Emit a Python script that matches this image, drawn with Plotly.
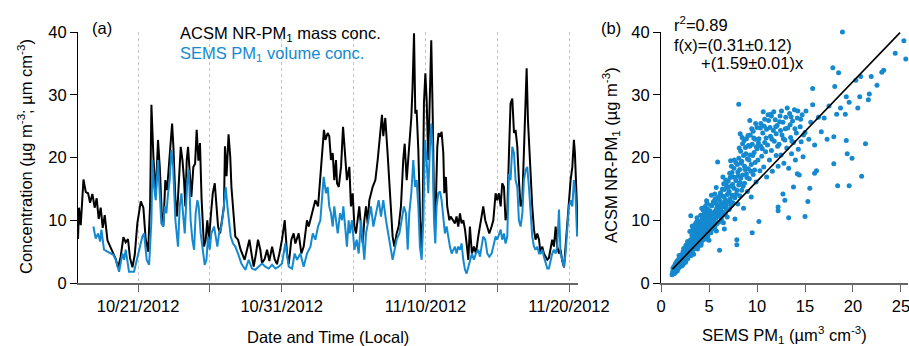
import numpy as np
import pandas as pd
import plotly.graph_objects as go

# ---------------- data ----------------
# time axis: days since 2012-10-21 00:00 (local)
acsm_day = [-4.18, -4.11, -3.99, -3.80, -3.64, -3.48, -3.34, -3.18, -3.02, -2.88, -2.74, -2.60, -2.46, -2.32,
            -2.13, -1.95, -1.79, -1.55, -1.39, -1.21, -1.02, -0.86, -0.70, -0.56, -0.39, -0.23, -0.05, 0.19,
            0.37, 0.53, 0.70, 0.84, 0.93, 1.07, 1.23,
            1.39, 1.51, 1.67, 1.76, 1.90, 2.02, 2.16, 2.27, 2.37, 2.46, 2.60, 2.71, 2.83, 2.97, 3.09, 3.20,
            3.29, 3.39, 3.48, 3.59, 3.71, 3.85, 3.97, 4.08, 4.20, 4.31, 4.42, 4.59, 4.71, 4.82, 4.94, 5.06,
            5.20, 5.34, 5.45, 5.57, 5.71, 5.85, 5.98, 6.05, 6.16, 6.30, 6.42, 6.50, 6.64, 6.77, 6.96, 7.14,
            7.42, 7.59, 7.75, 7.93, 8.05, 8.21, 8.35, 8.51, 8.63, 8.81, 8.98, 9.14, 9.33, 9.51, 9.67, 9.84,
            10.02, 10.21, 10.37, 10.49, 10.67, 10.83, 10.95, 11.18, 11.37, 11.53, 11.76, 11.88, 12.11, 12.34,
            12.53, 12.76, 12.94, 13.04,
            13.20, 13.31, 13.43, 13.55, 13.66, 13.78, 13.85, 13.97, 14.13, 14.27, 14.43, 14.54, 14.71, 14.82,
            14.94, 15.06, 15.17, 15.29, 15.40, 15.52, 15.64, 15.75, 15.87, 15.98, 16.10, 16.33, 16.52, 16.68,
            16.84, 16.98, 17.07, 17.21, 17.37, 17.49, 17.61, 17.72, 17.84, 18.00, 18.14, 18.30, 18.46, 18.56,
            18.70, 18.88, 19.02,
            19.11, 19.21, 19.30, 19.39, 19.51, 19.62, 19.69, 19.81, 19.90, 20.00, 20.09, 20.20, 20.32, 20.41,
            20.51, 20.60, 20.69, 20.83, 20.92, 21.02, 21.13, 21.25, 21.32, 21.43, 21.52, 21.67, 21.76, 21.90,
            22.06, 22.17, 22.29, 22.41, 22.52, 22.64, 22.76, 22.87, 22.99, 23.10, 23.24, 23.38, 23.52, 23.68,
            23.80, 23.91, 24.03, 24.17, 24.31, 24.45, 24.61, 24.73,
            24.89, 25.00, 25.12, 25.24, 25.35, 25.47, 25.58, 25.70, 25.82, 25.93, 26.05, 26.17, 26.28, 26.40,
            26.51, 26.63, 26.75, 26.86, 26.98, 27.05, 27.14, 27.23, 27.33, 27.44, 27.56, 27.67, 27.79, 27.91,
            28.02, 28.14, 28.25, 28.37, 28.49, 28.60, 28.72, 28.83, 28.95, 29.07, 29.18, 29.30, 29.41, 29.53,
            29.65, 29.76, 29.88, 29.99, 30.11, 30.23, 30.34, 30.41, 30.50, 30.62]
acsm_val = [7.0, 12.0, 9.2, 16.5, 14.5, 14.3, 12.8, 14.2, 12.0, 13.5, 10.2, 12.0, 8.8, 10.8,
            6.8, 5.8, 5.0, 3.8, 2.4, 4.2, 7.3, 6.5, 7.0, 4.0, 2.5, 4.5, 9.5, 13.0,
            12.0, 7.0, 5.0, 12.5, 28.4, 20.0, 14.0,
            22.8, 18.5, 10.0, 9.0, 16.4, 14.8, 19.0, 22.8, 25.4, 21.7, 13.2, 10.6, 16.9, 21.7, 19.6, 16.4,
            12.2, 19.6, 21.7, 16.9, 13.7, 18.5, 19.0, 24.4, 19.5, 22.3, 13.5, 5.8, 6.9, 10.0, 6.9, 10.6,
            14.3, 15.9, 12.2, 9.0, 7.9, 10.0, 12.2, 21.8, 17.0, 23.7, 20.0, 15.3, 11.1, 7.4, 6.9, 5.3,
            3.7, 5.3, 6.9, 4.2, 2.6, 4.7, 6.9, 5.3, 3.2, 3.8, 5.3, 3.5, 5.8, 3.8, 3.0, 4.7,
            6.9, 10.0, 4.7, 3.0, 6.9, 7.9, 6.3, 7.9, 4.7, 5.8, 10.0, 9.0, 11.1, 13.2,
            12.2, 18.5, 24.4, 22.8,
            23.9, 23.4, 19.6, 20.7, 16.4, 19.6, 15.9, 15.3, 18.5, 24.9, 19.6, 16.4, 18.5, 12.2,
            14.3, 9.0, 7.9, 10.0, 12.2, 9.0, 6.3, 10.0, 12.2, 9.5, 13.2, 15.3, 16.4, 19.6,
            23.9, 26.8, 23.4, 26.3, 20.7, 16.4, 12.7, 7.4, 5.8, 7.9, 9.0, 12.2, 19.6, 22.2,
            16.4, 21.7, 26.3,
            31.3, 39.8, 27.0, 27.6, 21.2, 9.0, 5.3, 10.0, 28.6, 33.4, 29.2, 19.6, 28.6, 38.7,
            27.0, 13.2, 9.0, 21.7, 23.9, 23.3, 24.1, 20.7, 14.3, 16.9, 12.2, 10.0, 10.6, 10.0,
            9.5, 10.6, 9.0, 11.1, 9.5, 10.0, 8.5, 6.3, 3.7, 9.0, 4.7, 5.8, 4.7, 7.4,
            9.0, 11.1, 12.2, 10.0, 9.0, 7.9, 9.0, 10.0,
            14.3, 13.2, 14.3, 12.2, 15.9, 15.3, 10.0, 11.1, 20.7, 28.6, 29.4, 23.9, 24.4, 21.7,
            16.4, 12.2, 13.2, 20.7, 31.3, 34.2, 26.0, 21.7, 16.4, 12.2, 8.5, 6.9, 7.9, 6.9,
            4.7, 5.8, 4.7, 4.2, 3.7, 4.0, 5.3, 6.9, 5.8, 9.0, 5.8, 4.7, 5.3, 3.5,
            2.5, 5.8, 10.0, 13.2, 16.4, 18.5, 22.8, 20.7, 14.3, 8.0]

sems_day = [-3.11, -2.95, -2.78, -2.64, -2.55, -2.37, -2.13, -1.90, -1.72, -1.55, -1.32, -1.09, -0.97, -0.86,
            -0.63, -0.28, -0.09, 0.07, 0.30, 0.42, 0.60, 0.77, 0.93, 1.00, 1.11, 1.23,
            1.39, 1.62, 1.74, 1.86, 1.97, 2.09, 2.20, 2.32, 2.44, 2.60, 2.69, 2.78, 2.90, 3.02, 3.13, 3.25,
            3.43, 3.53, 3.66, 3.78, 3.90, 4.01, 4.13, 4.22, 4.36, 4.48, 4.64, 4.76, 4.87, 4.99, 5.10, 5.29,
            5.38, 5.52, 5.64, 5.80, 5.92, 6.10, 6.22, 6.31, 6.45, 6.61, 6.77, 6.96, 7.19, 7.33,
            7.47, 7.70, 7.93, 8.16, 8.40, 8.63, 8.86, 9.09, 9.33, 9.56, 9.79, 10.02, 10.25, 10.49, 10.72,
            10.90, 11.07, 11.30, 11.53, 11.76, 12.00, 12.16, 12.34, 12.53, 12.69, 12.92, 13.08,
            13.20, 13.31, 13.43, 13.55, 13.66, 13.78, 13.90, 14.06, 14.20, 14.29, 14.43, 14.54, 14.66, 14.75,
            14.89, 15.06, 15.22, 15.36, 15.52, 15.64, 15.75, 15.87, 16.05, 16.21, 16.38, 16.57, 16.75, 16.91,
            17.07, 17.26, 17.45, 17.61, 17.72, 17.86, 18.00, 18.19, 18.37, 18.51, 18.65, 18.77, 18.88, 19.02,
            19.16, 19.28, 19.39, 19.51, 19.62, 19.74, 19.86, 19.97, 20.09, 20.20, 20.32, 20.41, 20.51, 20.60,
            20.69, 20.78, 20.90, 21.02, 21.13, 21.25, 21.36, 21.48, 21.60, 21.71, 21.83, 21.94, 22.06, 22.17,
            22.29, 22.41, 22.52, 22.64, 22.76, 22.87, 22.99, 23.10, 23.24, 23.38, 23.52, 23.68, 23.80, 23.91,
            24.03, 24.17, 24.31, 24.45, 24.61, 24.73,
            24.89, 25.00, 25.12, 25.24, 25.35, 25.47, 25.58, 25.70, 25.82, 25.93, 26.05, 26.17, 26.28, 26.40,
            26.51, 26.63, 26.75, 26.86, 26.98, 27.09, 27.21, 27.33, 27.44, 27.56, 27.67, 27.79, 27.91, 28.02,
            28.14, 28.25, 28.37, 28.49, 28.60, 28.72, 28.83, 28.95, 29.07, 29.18, 29.30, 29.41, 29.53, 29.65,
            29.76, 29.88, 29.99, 30.11, 30.23, 30.34, 30.45, 30.56]
sems_val = [9.0, 7.1, 7.9, 6.6, 8.5, 5.3, 5.0, 4.7, 4.5, 3.7, 1.8, 4.7, 3.7, 5.3,
            1.8, 1.8, 3.7, 5.3, 7.4, 7.9, 3.7, 2.9, 10.0, 19.6, 15.4, 13.2,
            19.6, 9.5, 9.0, 12.2, 11.1, 14.3, 16.4, 21.2, 18.5, 10.0, 7.4, 5.8, 12.2, 14.3, 11.1, 7.9,
            16.4, 18.0, 10.0, 6.9, 5.3, 11.1, 13.2, 12.2, 7.9, 5.3, 2.9, 3.7, 7.4, 5.3, 7.9, 9.0,
            7.9, 5.8, 7.9, 9.0, 11.1, 15.3, 12.2, 10.0, 7.4, 6.3, 5.8, 4.7, 3.1, 2.6,
            2.1, 3.7, 2.3, 2.1, 2.6, 3.1, 2.6, 2.3, 2.9, 2.3, 2.6, 3.1, 6.3, 2.6, 2.3,
            4.7, 3.7, 4.7, 2.6, 4.7, 5.8, 7.9, 6.9, 9.0, 10.0, 16.9, 14.3,
            15.3, 12.2, 11.1, 9.0, 12.2, 10.0, 7.9, 11.1, 10.0, 12.2, 9.0, 5.8, 10.0, 7.9,
            10.0, 5.3, 6.9, 4.7, 10.0, 6.9, 3.7, 7.9, 10.0, 12.2, 9.0, 11.1, 13.2, 10.6,
            13.2, 10.0, 7.4, 4.7, 3.7, 5.3, 6.9, 7.9, 10.0, 12.2, 11.1, 5.3, 11.1, 14.3,
            19.6, 15.3, 16.4, 12.2, 5.8, 3.7, 10.0, 22.8, 19.6, 14.3, 21.7, 25.4, 20.7, 10.0,
            6.3, 12.2, 14.3, 14.6, 13.2, 10.0, 7.9, 9.0, 6.9, 5.8, 4.7, 5.3, 5.8, 4.7,
            5.8, 5.3, 6.3, 3.7, 2.1, 1.5, 2.6, 3.7, 4.7, 3.7, 4.7, 5.3, 4.2, 5.8,
            7.4, 6.9, 4.7, 4.2, 4.7, 5.8,
            7.4, 6.9, 7.9, 8.5, 6.9, 7.9, 6.3, 7.4, 17.4, 16.4, 21.7, 20.7, 16.4, 15.3,
            10.0, 9.0, 11.1, 16.4, 18.0, 18.5, 15.3, 10.6, 7.4, 5.8, 5.3, 5.8, 4.7, 4.7,
            5.3, 4.2, 3.1, 2.3, 2.3, 3.7, 4.7, 5.3, 4.7, 5.8, 11.7, 4.7, 3.7, 2.6,
            4.7, 7.9, 12.2, 13.2, 12.2, 16.4, 14.3, 7.4]

# scatter panel (b): SEMS PM1 volume vs ACSM NR-PM1 mass, read band by band
scatter_sems = [
    1.2, 1.3, 1.3, 1.4, 1.4, 1.5, 1.5, 1.5, 1.6, 1.6, 1.7, 1.7, 1.8, 1.8, 1.8, 1.9, 1.9, 2.0, 2.0, 2.0, 1.6, 1.4, 1.7, 1.9,
    2.1, 2.1, 2.2, 2.2, 2.3, 2.3, 2.4, 2.4, 2.5, 2.5, 2.5, 2.6, 2.6, 2.7, 2.7, 2.8, 2.8, 2.8, 2.9, 2.9, 3.0, 3.0, 3.0, 2.6, 2.3, 2.2, 2.4,
    3.1, 3.1, 3.1, 3.2, 3.2, 3.3, 3.3, 3.4, 3.4, 3.5, 3.5, 3.5, 3.6, 3.6, 3.7, 3.7, 3.8, 3.8, 3.9, 3.9, 4.0, 4.0, 4.0, 3.6, 3.3, 3.8, 3.4,
    4.1, 4.1, 4.2, 4.2, 4.3, 4.3, 4.4, 4.4, 4.5, 4.5, 4.5, 4.6, 4.6, 4.7, 4.7, 4.8, 4.8, 4.8, 4.9, 4.9, 5.0, 5.0, 5.0, 4.4, 4.6,
    5.1, 5.1, 5.2, 5.2, 5.3, 5.3, 5.4, 5.4, 5.5, 5.5, 5.6, 5.6, 5.7, 5.7, 5.8, 5.8, 5.9, 5.9, 6.0, 6.0, 6.1, 5.9, 5.6,
    6.1, 6.1, 6.2, 6.2, 6.3, 6.3, 6.4, 6.4, 6.5, 6.5, 6.6, 6.6, 6.7, 6.7, 6.8, 6.8, 6.9, 6.9, 7.0, 7.0, 6.6,
    7.1, 7.1, 7.2, 7.2, 7.3, 7.3, 7.4, 7.4, 7.5, 7.5, 7.6, 7.6, 7.7, 7.8, 7.8, 7.9, 7.9, 7.9, 8.0, 8.0, 7.7,
    8.1, 8.1, 8.1, 8.2, 8.2, 8.3, 8.3, 8.4, 8.4, 8.5, 8.5, 8.6, 8.7, 8.7, 8.8, 8.9, 8.9, 9.0, 9.0, 8.6,
    9.1, 9.1, 9.2, 9.3, 9.3, 9.4, 9.5, 9.5, 9.6, 9.6, 9.7, 9.8, 9.8, 9.9, 10.0, 10.0, 10.2, 9.4,
    10.1, 10.2, 10.3, 10.4, 10.4, 10.5, 10.6, 10.7, 10.8, 10.8, 10.9, 11.0, 11.0,
    11.1, 11.2, 11.3, 11.4, 11.5, 11.5, 11.6, 11.7, 11.8, 11.9, 12.0, 12.0,
    12.1, 12.2, 12.2, 12.2, 12.3, 12.4, 12.5, 12.6, 12.7, 12.7, 12.8, 12.9, 12.9, 13.0,
    13.1, 13.2, 13.3, 13.3, 13.4, 13.5, 13.6, 13.7, 13.8, 13.8, 13.9, 14.0,
    14.1, 14.2, 14.2, 14.3, 14.4, 14.5, 14.6, 14.7, 14.8, 15.0, 15.0, 15.1, 15.3, 15.4, 15.5, 15.6, 15.8, 16.0, 16.0, 15.8,
    16.2, 16.4, 16.7, 17.0, 17.5, 17.3, 17.9, 18.0, 18.0, 18.1, 18.3, 18.4, 18.5, 18.7, 18.9, 19.2, 19.3, 19.3, 19.4,
    19.6, 19.6, 19.9, 20.3, 20.5, 20.7, 20.8, 20.9, 21.3, 21.6, 21.7, 21.9, 22.5, 23.0, 23.2, 24.4, 25.3, 25.5]
scatter_acsm = [
    1.5, 2.0, 1.6, 2.3, 1.8, 2.6, 2.1, 1.7, 2.9, 2.4, 2.2, 3.1, 2.7, 3.4, 2.3, 3.0, 3.6, 2.8, 3.3, 4.0, 2.0, 1.5, 2.6, 2.5,
    3.1, 3.8, 3.5, 4.3, 3.0, 4.0, 3.6, 4.6, 3.9, 5.0, 4.3, 3.5, 4.8, 4.2, 5.4, 4.6, 5.8, 3.9, 5.1, 6.2, 4.5, 5.5, 8.2, 6.0, 5.0, 2.8, 3.2,
    5.0, 6.4, 10.7, 5.7, 7.0, 4.8, 6.1, 6.8, 7.6, 5.5, 6.3, 8.1, 7.0, 5.9, 7.5, 8.8, 6.6, 7.9, 7.2, 9.3, 6.3, 8.0, 9.8, 9.5, 8.5, 5.4, 4.6,
    7.1, 8.6, 6.4, 9.2, 7.8, 10.2, 6.9, 8.4, 9.0, 11.0, 7.4, 8.1, 9.8, 7.0, 10.5, 8.7, 12.7, 9.4, 7.8, 11.2, 8.5, 10.0, 6.8, 11.6, 12.2,
    9.2, 11.5, 8.0, 10.4, 9.6, 12.3, 8.6, 10.9, 9.9, 13.0, 8.9, 11.4, 10.3, 12.7, 9.4, 11.9, 10.8, 13.6, 9.7, 12.2, 5.2, 19.3, 14.2,
    10.6, 13.2, 11.8, 14.4, 10.1, 12.6, 11.3, 15.0, 13.8, 9.6, 12.1, 14.9, 11.0, 13.3, 15.6, 12.4, 10.5, 14.1, 12.9, 16.2, 8.6,
    11.7, 14.6, 13.4, 16.8, 12.3, 15.4, 14.0, 17.6, 12.8, 16.9, 15.1, 18.3, 13.6, 16.3, 19.2, 6.9, 6.1, 14.8, 17.7, 12.6, 10.2,
    15.6, 19.9, 28.5, 13.9, 18.1, 16.7, 21.0, 14.8, 19.4, 22.2, 17.2, 20.3, 15.9, 18.6, 21.6, 17.4, 23.0, 19.8, 14.6, 11.9,
    18.2, 21.9, 16.6, 20.4, 23.6, 18.9, 8.0, 22.1, 17.3, 24.2, 20.8, 19.2, 22.9, 16.1, 21.4, 24.8, 9.8, 13.7,
    19.6, 23.0, 17.9, 21.8, 25.4, 20.2, 23.9, 18.5, 22.4, 26.1, 20.9, 24.5, 16.9,
    22.0, 25.9, 19.6, 23.4, 26.6, 21.1, 17.8, 24.3, 22.6, 26.0, 20.3, 23.8,
    25.1, 12.1, 11.5, 18.6, 22.1, 26.6, 20.4, 23.6, 14.2, 25.6, 19.1, 13.2, 22.8, 26.4,
    21.5, 24.7, 10.4, 18.3, 27.0, 23.2, 20.6, 25.8, 15.3, 22.4, 27.6, 19.6,
    23.9, 17.4, 26.3, 21.3, 17.2, 24.9, 22.5, 26.8, 20.1, 10.6, 24.0, 27.4, 13.0, 22.9, 15.1, 25.6, 31.0, 17.5, 22.0, 28.4,
    17.9, 26.4, 24.1, 26.3, 28.2, 22.9, 34.3, 19.0, 23.3, 31.3, 26.9, 15.5, 33.5, 27.9, 40.0, 26.9, 29.7, 22.7, 20.6,
    28.8, 15.5, 19.9, 32.3, 27.9, 29.7, 32.9, 17.0, 22.2, 29.2, 30.1, 32.9, 31.5, 33.6, 33.9, 36.6, 38.6, 35.7]

# additional points of the dense part of the cloud
scatter_sems_dense = [
    1.15, 1.22, 1.28, 1.33, 1.37, 1.42, 1.46, 1.52, 1.55, 1.58, 1.63, 1.66, 1.72, 1.75, 1.83, 1.86, 1.92, 1.97,
    2.04, 2.08, 2.13, 2.17, 2.26, 2.33, 2.38, 2.44, 2.52, 2.57, 2.63, 2.68, 2.74, 2.83, 2.87, 2.93, 2.97,
    1.25, 1.48, 1.69, 1.88, 2.15, 2.36, 2.55, 2.77,
    3.05, 3.14, 3.22, 3.27, 3.36, 3.44, 3.48, 3.56, 3.63, 3.67, 3.74, 3.83, 3.87, 3.94, 4.06, 4.13, 4.17, 4.26,
    4.34, 4.38, 4.47, 4.53, 4.62, 4.67, 4.74, 4.83, 4.87, 4.95, 5.04, 5.13, 5.17, 5.26, 5.34, 5.43, 5.47, 5.56,
    5.64, 5.72, 5.77, 5.86, 5.94, 3.25, 3.75, 4.25, 4.75, 5.25, 5.75,
    6.05, 6.14, 6.23, 6.36, 6.44, 6.53, 6.62, 6.74, 6.83, 6.95, 7.04, 7.15, 7.26, 7.34, 7.45, 7.55, 7.64, 7.73,
    7.86, 7.95, 8.06, 8.15, 8.24, 8.36, 8.45, 8.55, 8.66, 8.75, 8.84, 8.95, 9.06, 9.16, 9.25, 9.37, 9.45, 9.55,
    9.66, 9.75, 9.86, 9.95, 6.45, 7.25, 8.25, 9.25,
    10.15, 10.35, 10.55, 10.75, 10.95, 11.15, 11.35, 11.55, 11.75, 11.95, 12.15, 12.35, 12.55, 12.75, 12.95,
    13.15, 13.45, 13.65, 13.95, 14.25, 14.55, 14.85, 10.65, 11.45, 12.45, 13.55]
scatter_acsm_dense = [
    1.3, 1.8, 2.2, 1.9, 2.6, 2.0, 2.8, 2.4, 3.2, 1.9, 2.7, 3.5, 2.5, 3.0, 3.8, 2.6, 3.3, 4.2,
    3.4, 2.9, 4.5, 3.7, 4.1, 3.4, 4.8, 3.9, 4.5, 5.6, 4.0, 5.0, 4.4, 5.2, 6.4, 4.8, 5.9,
    2.4, 3.0, 1.9, 4.4, 2.7, 5.5, 3.3, 6.6,
    6.8, 4.4, 7.6, 5.2, 7.3, 5.9, 8.9, 6.6, 8.3, 6.2, 9.8, 7.0, 5.8, 8.6, 7.5, 10.8, 6.0, 8.9,
    9.6, 7.2, 10.4, 8.0, 11.4, 8.8, 9.1, 11.8, 7.4, 9.9, 10.7, 8.4, 12.4, 9.1, 11.1, 10.2, 12.9, 9.6,
    13.4, 11.0, 8.3, 12.5, 11.3, 9.1, 10.4, 11.9, 13.1, 14.0, 15.2,
    11.2, 14.0, 12.5, 13.9, 10.8, 15.8, 13.0, 16.4, 11.7, 15.2, 14.3, 17.5, 12.9, 18.6, 15.7, 13.9, 19.6, 16.8,
    14.2, 18.9, 17.1, 21.5, 16.0, 19.1, 23.2, 15.4, 22.7, 18.1, 20.6, 16.8, 23.5, 19.6, 21.8, 17.8, 24.6, 20.3,
    23.1, 18.0, 25.4, 21.7, 16.9, 19.5, 23.8, 25.9,
    22.3, 24.7, 21.4, 25.0, 23.1, 26.8, 24.8, 22.9, 27.3, 24.9, 21.8, 25.7, 27.4, 23.0, 24.6,
    27.9, 25.2, 22.6, 24.6, 27.4, 26.1, 23.6, 27.3, 26.9, 24.3, 26.5]

fit_intercept = 0.31
fit_slope = 1.59
fit_x = [1.2, 24.9]

date_tickvals = ["2012-10-21", "2012-10-26", "2012-10-31", "2012-11-05", "2012-11-10", "2012-11-15", "2012-11-20"]
date_ticktext = ["10/21/2012", "", "10/31/2012", "", "11/10/2012", "", "11/20/2012"]
y_ticks = [0, 10, 20, 30, 40]
x2_ticks = [0, 5, 10, 15, 20, 25]

assert len(acsm_day) == len(acsm_val)
assert len(sems_day) == len(sems_val)
assert len(scatter_sems) == len(scatter_acsm)
assert len(scatter_sems_dense) == len(scatter_acsm_dense)

# ---------------- figure ----------------
W, H = 909, 346
BLUE = "#1589cf"
FONT = "Liberation Sans, Arial, Helvetica, sans-serif"
FS = 16.5

def px(x):
    return x / W

def py(y):
    return 1 - y / H

base = pd.Timestamp("2012-10-21")
acsm_t = base + pd.to_timedelta(np.array(acsm_day), unit="D")
sems_t = base + pd.to_timedelta(np.array(sems_day), unit="D")

fig = go.Figure()
fig.add_trace(go.Scatter(x=acsm_t, y=acsm_val, mode="lines", line=dict(color="black", width=2),
                         xaxis="x", yaxis="y", showlegend=False))
fig.add_trace(go.Scatter(x=sems_t, y=sems_val, mode="lines", line=dict(color=BLUE, width=2),
                         xaxis="x", yaxis="y", showlegend=False))
fig.add_trace(go.Scatter(x=scatter_sems + scatter_sems_dense, y=scatter_acsm + scatter_acsm_dense,
                         mode="markers", marker=dict(color=BLUE, size=5, line=dict(width=0)),
                         cliponaxis=False, xaxis="x2", yaxis="y2", showlegend=False))
fit_y = [fit_intercept + fit_slope * v for v in fit_x]
fig.add_trace(go.Scatter(x=fit_x, y=fit_y, mode="lines", line=dict(color="black", width=1.6),
                         xaxis="x2", yaxis="y2", showlegend=False))

ydom = [py(283), py(32)]
axis_common = dict(ticks="outside", ticklen=7, tickwidth=1, showline=True, zeroline=False,
                   automargin=False, ticklabeloverflow="allow",
                   tickfont=dict(family=FONT, size=FS, color="black"))

fig.update_layout(
    width=W, height=H, autosize=False, margin=dict(l=0, r=0, t=0, b=0, pad=0),
    paper_bgcolor="white", plot_bgcolor="white",
    font=dict(family=FONT, size=FS, color="black"),
    xaxis=dict(domain=[px(78), px(578)], type="date",
               range=["2012-10-16 19:40", "2012-11-20 15:00"],
               tickmode="array", tickvals=date_tickvals, ticktext=date_ticktext,
               showgrid=True, gridcolor="#c4c4c4", griddash="dot", gridwidth=1,
               linecolor="#666666", linewidth=1.5, tickcolor="#666666", anchor="y", **axis_common),
    yaxis=dict(domain=ydom, range=[0, 40], tickmode="array", tickvals=y_ticks,
               showgrid=False, linecolor="black", linewidth=1, tickcolor="black", anchor="x", **axis_common),
    xaxis2=dict(domain=[px(661), px(908)], range=[0, 25.73], tickmode="array", tickvals=x2_ticks,
                showgrid=False, linecolor="#666666", linewidth=1.5, tickcolor="#666666", anchor="y2",
                **axis_common),
    yaxis2=dict(domain=ydom, range=[0, 40], tickmode="array", tickvals=y_ticks,
                showgrid=False, linecolor="black", linewidth=1, tickcolor="black", anchor="x2",
                **axis_common),
)

def ann(text, x, y, xanchor="center", yanchor="middle", color="black", angle=0, size=FS):
    fig.add_annotation(text=text, x=px(x), y=py(y), xref="paper", yref="paper",
                       xanchor=xanchor, yanchor=yanchor, showarrow=False, textangle=angle,
                       font=dict(family=FONT, size=size, color=color))

ann("(a)", 102, 28)
ann("(b)", 611, 28)
ann("ACSM NR-PM<sub>1</sub> mass conc.", 178, 34, xanchor="left")
ann("SEMS PM<sub>1</sub> volume conc.", 178, 54, xanchor="left", color=BLUE)
ann("r<sup>2</sup>=0.89", 672, 24, xanchor="left")
ann("f(x)=(0.31\u00b10.12)", 672, 45, xanchor="left")
ann("+(1.59\u00b10.01)x", 699, 63, xanchor="left")
ann("Concentration (\u00b5g m<sup>-3</sup>; \u00b5m cm<sup>-3</sup>)", 25, 157, angle=-90)
ann("ACSM NR-PM<sub>1</sub> (\u00b5g m<sup>-3</sup>)", 611, 155, angle=-90)
ann("Date and Time (Local)", 328, 337)
ann("SEMS PM<sub>1</sub> (\u00b5m<sup>3</sup> cm<sup>-3</sup>)", 784, 335)

fig.write_html("out.html")
